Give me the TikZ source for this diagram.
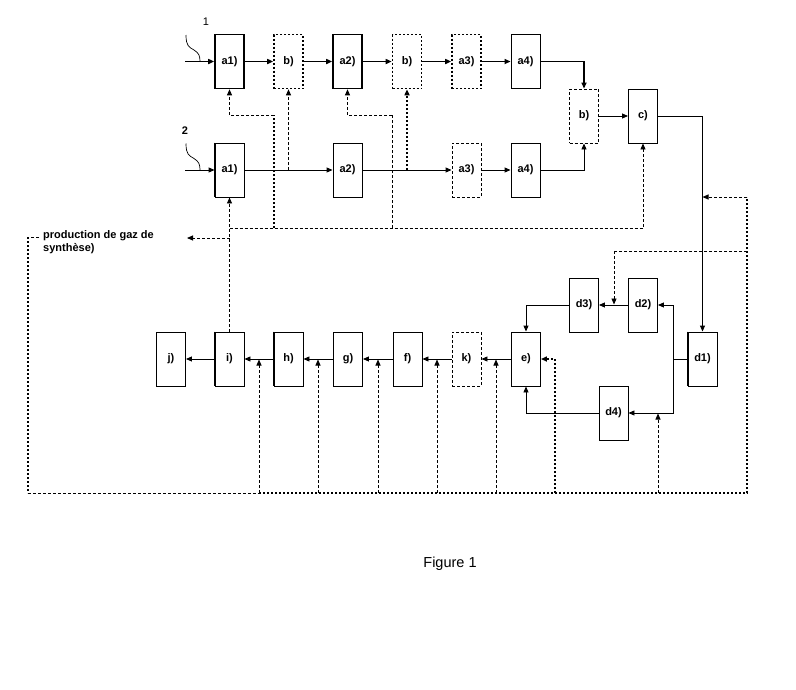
\documentclass[tikz,border=0pt]{standalone}
\usepackage{fontspec}
\setmainfont{Liberation Sans}
\usetikzlibrary{arrows.meta}
\begin{document}
\begin{tikzpicture}[x=1pt,y=-1pt,
  every node/.style={font=\bfseries\fontsize{11}{13}\selectfont},
  box/.style={draw,line width=0.9pt,minimum width=29pt,minimum height=54pt,inner sep=0pt},
  tbox/.style={box,line width=1.6pt},
  dbox/.style={box,dash pattern=on 3pt off 2pt},
  obox/.style={box,line width=1.6pt,dash pattern=on 2pt off 2pt},
  tip/.style={-{Triangle[length=6pt,width=5pt]}},
  flow/.style={line width=0.9pt},
  thickflow/.style={line width=1.8pt},
  dsh/.style={line width=0.9pt,dash pattern=on 3pt off 2pt},
  dot/.style={line width=1.8pt,dash pattern=on 2pt off 2pt},
  lead/.style={line width=0.7pt},
  ledge/.style={line width=1.8pt}
]
\useasboundingbox (0,0) rectangle (796,689);

% row 1
\node[tbox] (a1) at (229.5,61.5) {a1)};
\node[obox] (b1) at (288.5,61.5) {b)};
\node[tbox] (a2) at (347.5,61.5) {a2)};
\node[obox] (b2) at (407,61.5) {b)};
\node[obox] (a3) at (466.5,61.5) {a3)};
\node[box] (a4) at (525.5,61.5) {a4)};
% row 2
\node[box] (p1) at (229.5,170) {a1)};
\node[box] (p2) at (347.5,170) {a2)};
\node[dbox] (p3) at (466.5,170) {a3)};
\node[box] (p4) at (525.5,170) {a4)};
% middle
\node[dbox] (bm) at (584,116) {b)};
\node[box] (c) at (643,116) {c)};
% d section
\node[box] (d1) at (702.5,359) {d1)};
\node[box] (d2) at (643,305) {d2)};
\node[box] (d3) at (584,305) {d3)};
\node[box] (d4) at (613.5,413) {d4)};
% bottom row
\node[box] (e) at (526,359) {e)};
\node[dbox] (k) at (466.5,359) {k)};
\node[box] (f) at (407.5,359) {f)};
\node[box] (g) at (348,359) {g)};
\node[box] (h) at (288.5,359) {h)};
\node[box] (i) at (229.5,359) {i)};
\node[box] (j) at (171,359) {j)};

% thicker left edges
\draw[ledge] (p1.north west) -- (p1.south west);
\draw[ledge] (d1.north west) -- (d1.south west);
\draw[ledge] (h.north west) -- (h.south west);
\draw[ledge] (i.north west) -- (i.south west);

% labels
\node[font=\mdseries\fontsize{11}{13}\selectfont] (n1) at (206,22) {1};
\node (n2) at (185,131) {2};
\node[anchor=west,align=left,inner sep=0pt] (prod) at (43,242.5) {production de gaz de\\synthèse)};
\node[font=\mdseries\fontsize{14.5}{17}\selectfont] (fig) at (450,564) {Figure 1};

% inputs
\coordinate (in1) at (185,61.5);
\coordinate (in2) at (185,170);
\coordinate (l1s) at (186,35);
\coordinate (l1e) at (200,61.5);
\coordinate (l2s) at (186,143.5);
\coordinate (l2e) at (200,170);
\draw[lead] (l1s) .. controls (186,46) and (189,47) .. (194,50) .. controls (199,53) and (200,56) .. (l1e);
\draw[lead] (l2s) .. controls (186,154.5) and (189,155.5) .. (194,158.5) .. controls (199,161.5) and (200,164.5) .. (l2e);

% row 1 flow
\draw[thickflow,tip] (in1) -- (a1);
\draw[thickflow,tip] (a1) -- (b1);
\draw[thickflow,tip] (b1) -- (a2);
\draw[thickflow,tip] (a2) -- (b2);
\draw[thickflow,tip] (b2) -- (a3);
\draw[thickflow,tip] (a3) -- (a4);
\draw[thickflow,tip] (a4.east) -| (bm.north);
% row 2 flow
\draw[flow,tip] (in2) -- (p1);
\draw[flow,tip] (p1) -- (p2);
\draw[flow,tip] (p2) -- (p3);
\draw[flow,tip] (p3) -- (p4);
\draw[flow,tip] (p4.east) -| (bm.south);
\draw[flow,tip] (bm) -- (c);
\draw[flow,tip] (c.east) -| (d1.north);

% d section flow
\coordinate (dj) at (673,359);
\draw[flow] (d1.west) -- (dj);
\draw[flow,tip] (dj) |- (d2.east);
\draw[flow,tip] (dj) |- (d4.east);
\draw[flow,tip] (d2) -- (d3);
\draw[flow,tip] (d3.west) -| (e.north);
\draw[flow,tip] (d4.west) -| (e.south);

% bottom row flow
\draw[flow,tip] (e) -- (k);
\draw[flow,tip] (k) -- (f);
\draw[flow,tip] (f) -- (g);
\draw[flow,tip] (g) -- (h);
\draw[flow,tip] (h) -- (i);
\draw[flow,tip] (i) -- (j);

% dashed recycle lines, upper part
\draw[dsh,tip] (i.north) -- (p1.south);
\coordinate (pg) at (229.5,238);
\coordinate (pge) at (187,238);
\draw[dsh,tip] (pg) -- (pge);
\coordinate (h228) at (229.5,228);
\draw[dsh,tip] (h228) -| (c.south);
\coordinate (u1) at (274,228);
\coordinate (u1t) at (274,115);
\draw[dot] (u1) -- (u1t);
\draw[dsh,tip] (u1t) -| (a1.south);
\coordinate (u2) at (392,228);
\coordinate (u2t) at (392,115);
\draw[dsh] (u2) -- (u2t);
\draw[dsh,tip] (u2t) -| (a2.south);
\coordinate (s1) at (288.5,170);
\draw[dsh,tip] (s1) -- (b1.south);
\coordinate (s2) at (407,170);
\draw[dot,tip] (s2) -- (b2.south);

% dashed lines, outer loop
\coordinate (L0) at (39,237);
\coordinate (L1) at (28,237);
\coordinate (L2) at (28,493);
\coordinate (B1) at (259,493);
\coordinate (R0) at (747,493);
\coordinate (R1) at (747,197);
\coordinate (Rt) at (702.5,197);
\draw[dsh] (L0) -- (L1);
\draw[dot] (L1) -- (L2);
\draw[dsh] (L2) -- (B1);
\draw[dot] (B1) -- (R0) -- (R1);
\draw[dsh,tip] (R1) -- (Rt);
\coordinate (R2) at (747,251);
\coordinate (R2b) at (614,251);
\coordinate (Rt2) at (614,304.5);
\draw[dsh] (R2) -- (R2b);
\draw[dsh,tip] (R2b) -- (Rt2);

% bottom feeds
\foreach \xx/\nm in {259/q1,318/q2,378/q3,437/q4,496/q5}{
  \coordinate (\nm b) at (\xx,493);
  \coordinate (\nm t) at (\xx,359.5);
  \draw[dsh,tip] (\nm b) -- (\nm t);
}
\coordinate (q6) at (555,493);
\draw[dot,tip] (q6) |- (e.east);
\coordinate (q7b) at (658,493);
\coordinate (q7t) at (658,413.5);
\draw[dsh,tip] (q7b) -- (q7t);
\end{tikzpicture}
\end{document}
